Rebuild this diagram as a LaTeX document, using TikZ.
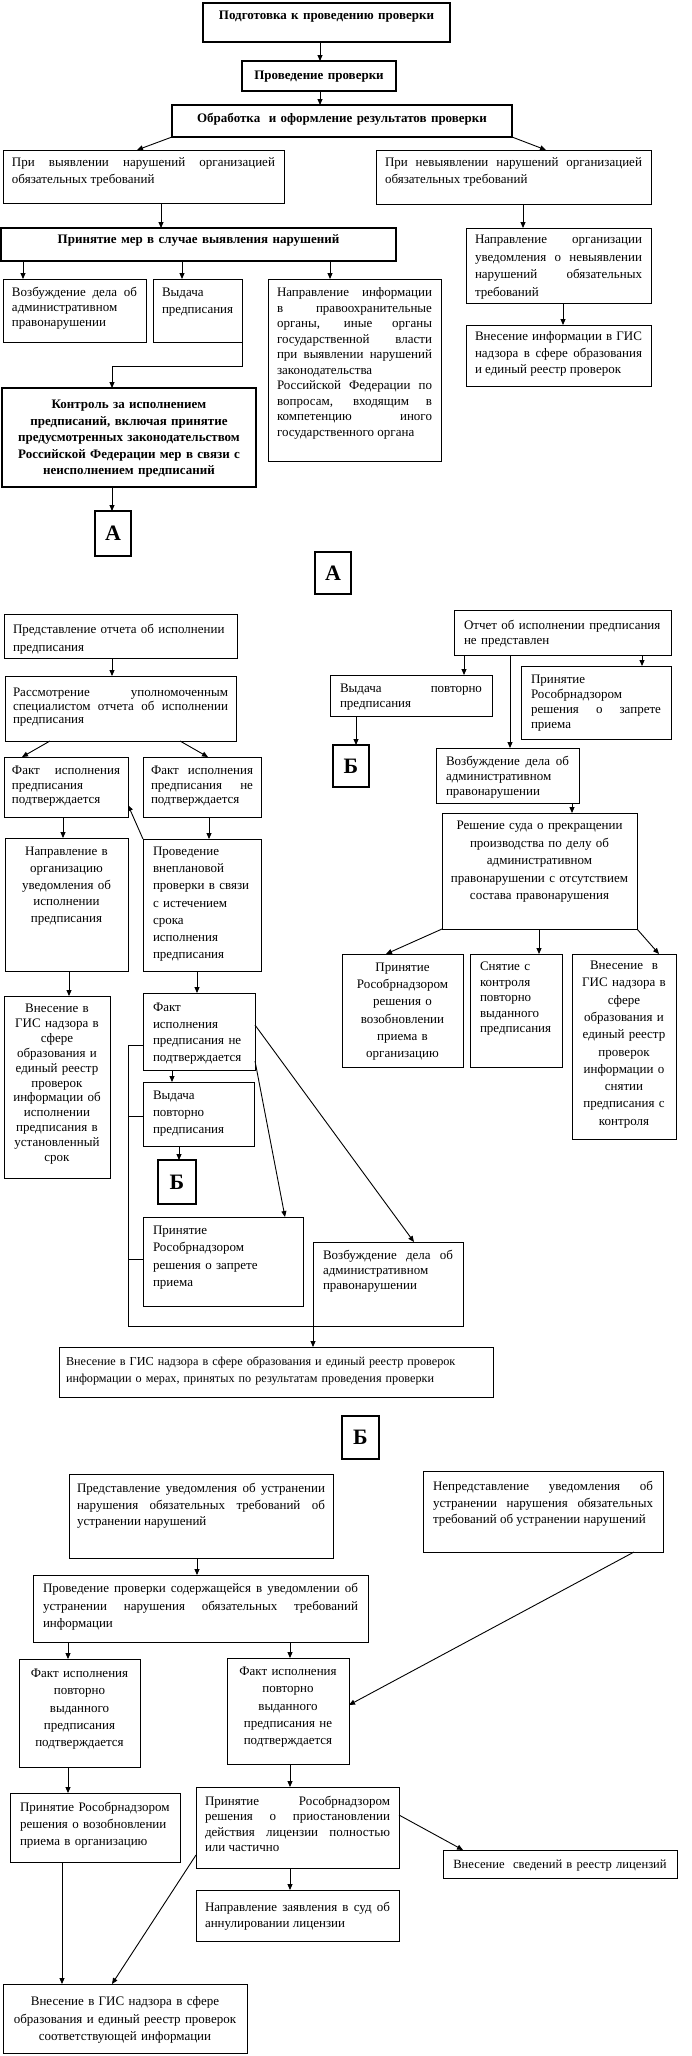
\documentclass[tikz,border=0pt]{standalone}
\usepackage{fontspec}
\setmainfont{Liberation Serif}
\usetikzlibrary{arrows.meta}
\tolerance=10000 \hbadness=10000 \hfuzz=30pt \hyphenpenalty=10000 \exhyphenpenalty=10000
\tikzset{
  box/.style={draw, rectangle, line width=1pt, inner sep=0pt, outer sep=0pt},
  bbox/.style={line width=2pt},
  mbox/.style={line width=1.3pt},
  txt/.style={inner sep=0pt, outer sep=0pt, font=\fontsize{13}{17}\selectfont},
  ls/.style={font=\fontsize{13}{#1}\selectfont},
  bfl/.style={font=\bfseries\fontsize{13}{#1}\selectfont},
  lbl/.style={font=\bfseries\fontsize{22}{22}\selectfont},
  arr/.style={-{Triangle[length=6pt,width=5pt]}, line width=0.9pt},
  conn/.style={line width=0.9pt},
}
\newcommand{\padx}{9}
\newcommand{\bx}[9]{%
  \pgfmathsetmacro{\bxW}{#5-#3}%
  \pgfmathsetmacro{\bxH}{#6-#4}%
  \pgfmathsetmacro{\bxTW}{#5-#3-2*\padx}%
  \pgfmathsetmacro{\bxTX}{#3+\padx}%
  \pgfmathsetmacro{\bxTY}{#7-6.5}%
  \node[box,#8,minimum width=\bxW pt,minimum height=\bxH pt,anchor=north west] (#2) at (#3,#4) {};%
  \node[txt,#1,text width=\bxTW pt,anchor=north west] (#2t) at (\bxTX,\bxTY) {\rule{0pt}{10pt}#9};%
}
\begin{document}
\begin{tikzpicture}[x=1pt,y=-1pt]
\fill[white] (0,0) rectangle (692,2056);
\useasboundingbox (0,0) rectangle (692,2056);

% ---------- top part ----------
\bx{bfl=17,align=center}{top}{203}{3}{450}{42}{16}{bbox}{Подготовка к проведению проверки}
\bx{bfl=17,align=center}{prov}{242}{61}{396}{91}{76}{bbox}{Проведение проверки}
\bx{bfl=17,align=center}{obr}{172}{105}{512}{137}{119}{bbox}{Обработка\ \ и оформление результатов проверки}
\bx{ls=17,align=justify}{vyyav}{3}{150}{284}{203}{163}{}{При выявлении нарушений организацией\linebreak обязательных требований}
\bx{ls=17,align=justify}{nevyyav}{376}{150}{651}{204}{163}{}{При невыявлении нарушений организацией\linebreak обязательных требований}
\bx{bfl=17,align=center}{mery}{1}{228}{396}{261}{240}{bbox}{Принятие мер в случае выявления нарушений}
\bx{ls=17.7,align=justify}{napr1}{466}{228}{651}{303}{240}{}{Направление организации\linebreak уведомления о невыявлении\linebreak нарушений обязательных\linebreak требований}
\bx{ls=16.5,align=justify}{vnes1}{466}{325}{651}{386}{337}{}{Внесение информации в ГИС\linebreak надзора в сфере образования\linebreak и единый реестр проверок}
\bx{ls=15,align=justify}{vozb1}{3}{279}{146}{342}{293}{}{Возбуждение дела об\linebreak административном\linebreak правонарушении}
\bx{ls=16.5,align=left}{vyd1}{153}{279}{242}{342}{293}{}{Выдача\\предписания}
\bx{ls=15.5,align=justify}{napr2}{268}{279}{441}{461}{293}{}{Направление информации\linebreak в правоохранительные\linebreak органы, иные органы\linebreak государственной власти\linebreak при выявлении нарушений\linebreak законодательства\linebreak Российской Федерации по\linebreak вопросам, входящим в\linebreak компетенцию иного\linebreak государственного органа}
\bx{bfl=16.5,align=center}{kontr}{2}{388}{256}{487}{405}{bbox}{Контроль за исполнением\\предписаний, включая принятие\\предусмотренных законодательством\\Российской Федерации мер в связи с\\неисполнением предписаний}
\node[box,bbox,lbl,minimum width=36pt,minimum height=45pt,anchor=north west] (A1) at (95,511) {А};

\draw[arr] (top.south -| 320,0) -- (prov.north -| 320,0);
\draw[arr] (prov.south -| 320,0) -- (obr.north -| 320,0);
\draw[arr] (obr.south west) -- (vyyav.north -| 137,0);
\draw[arr] (obr.south east) -- (nevyyav.north -| 546,0);
\draw[arr] (vyyav.south -| 161,0) -- (mery.north -| 161,0);
\draw[arr] (nevyyav.south -| 523,0) -- (napr1.north -| 523,0);
\draw[arr] (napr1.south -| 563,0) -- (vnes1.north -| 563,0);
\draw[arr] (mery.south -| 23,0) -- (vozb1.north -| 23,0);
\draw[arr] (mery.south -| 182,0) -- (vyd1.north -| 182,0);
\draw[arr] (mery.south -| 330,0) -- (napr2.north -| 330,0);
\draw[arr] (vyd1.south east) -- (vyd1.south east |- 0,366) -| (kontr.north -| 112,0);
\draw[arr] (kontr.south -| 112,0) -- (A1.north -| 112,0);

% ---------- section A ----------
\node[box,bbox,lbl,minimum width=36pt,minimum height=42pt,anchor=north west] (A2) at (315,552) {А};

\bx{ls=18,align=left}{pred}{4}{614}{237}{658}{630}{}{Представление отчета об исполнении\\предписания}
\renewcommand{\padx}{8}
\bx{ls=13.5,align=justify}{rass}{5}{676}{236}{741}{693}{}{Рассмотрение уполномоченным\linebreak специалистом отчета об исполнении\linebreak предписания}
\bx{ls=14.5,align=justify}{fakt1}{4}{757}{128}{817}{771}{}{Факт исполнения\linebreak предписания\linebreak подтверждается}
\bx{ls=14.5,align=justify}{fakt2}{143}{757}{261}{817}{771}{}{Факт исполнения\linebreak предписания не\linebreak подтверждается}
\bx{ls=16.75,align=center}{naprU}{5}{838}{128}{971}{852}{}{Направление в\\организацию\\уведомления об\\исполнении\\предписания}
\renewcommand{\padx}{10}
\bx{ls=17.2,align=left}{provn}{143}{839}{261}{971}{852}{}{Проведение\\внеплановой\\проверки в связи\\с истечением\\срока\\исполнения\\предписания}
\renewcommand{\padx}{4}
\bx{ls=14.9,align=center}{vnesU}{4}{996}{110}{1178}{1009}{}{Внесение в\\ГИС надзора в\\сфере\\образования и\\единый реестр\\проверок\\информации об\\исполнении\\предписания в\\установленный\\срок}
\renewcommand{\padx}{10}
\bx{ls=16.7,align=left}{faktN}{143}{993}{255}{1070}{1008}{}{Факт\\исполнения\\предписания не\\подтверждается}
\bx{ls=17,align=left}{vydP}{143}{1082}{254}{1146}{1096}{}{Выдача\\повторно\\предписания}
\node[box,mbox,lbl,minimum width=38pt,minimum height=44pt,anchor=north west] (B1) at (158,1160) {Б};
\bx{ls=17.3,align=left}{zapr}{143}{1217}{303}{1306}{1231}{}{Принятие\\Рособрнадзором\\решения о запрете\\приема}
\bx{ls=15,align=justify}{vozb2}{313}{1242}{463}{1326}{1256}{}{Возбуждение дела об\linebreak административном\linebreak правонарушении}
\renewcommand{\padx}{7}
\bx{font=\fontsize{12.2}{17}\selectfont,align=left}{vnesM}{59}{1347}{493}{1397}{1362}{}{Внесение в ГИС надзора в сфере образования и единый реестр проверок\\информации о мерах, принятых по результатам проведения проверки}
\renewcommand{\padx}{10}

\bx{ls=15,align=left}{otch}{454}{610}{671}{655}{626}{}{Отчет об исполнении предписания\\не представлен}
\bx{ls=14.5,align=justify}{vyd2}{330}{675}{492}{716}{689}{}{Выдача повторно\linebreak предписания}
\node[box,mbox,lbl,minimum width=36pt,minimum height=42pt,anchor=north west] (B2) at (333,745) {Б};
\bx{ls=15,align=justify}{zapr2}{521}{666}{671}{739}{680}{}{Принятие\linebreak Рособрнадзором\linebreak решения о запрете\linebreak приема}
\bx{ls=15,align=justify}{vozb3}{436}{748}{579}{803}{762}{}{Возбуждение дела об\linebreak административном\linebreak правонарушении}
\renewcommand{\padx}{8}
\bx{ls=17.5,align=center}{resh}{442}{813}{637}{929}{826}{}{Решение суда о прекращении\\производства по делу об\\административном\\правонарушении с отсутствием\\состава правонарушения}
\renewcommand{\padx}{5}
\bx{ls=17.2,align=center}{vozob}{342}{954}{463}{1067}{968}{}{Принятие\\Рособрнадзором\\решения о\\возобновлении\\приема в\\организацию}
\renewcommand{\padx}{10}
\bx{ls=15.5,align=left}{snyat}{470}{954}{562}{1067}{967}{}{Снятие с\\контроля\\повторно\\выданного\\предписания}
\renewcommand{\padx}{5}
\bx{ls=17.3,align=center}{vnesS}{572}{954}{676}{1139}{966}{}{Внесение\ \ в\\ГИС надзора в\\сфере\\образования и\\единый реестр\\проверок\\информации о\\снятии\\предписания с\\контроля}

\draw[arr] (pred.south -| 112,0) -- (rass.north -| 112,0);
\draw[arr] (rass.south -| 50,0) -- (fakt1.north -| 22,0);
\draw[arr] (rass.south -| 180,0) -- (fakt2.north -| 208,0);
\draw[arr] (provn.north west) -- (fakt1.east |- 0,805);
\draw[arr] (fakt1.south -| 63,0) -- (naprU.north -| 63,0);
\draw[arr] (fakt2.south -| 209,0) -- (provn.north -| 209,0);
\draw[arr] (naprU.south -| 69,0) -- (vnesU.north -| 69,0);
\draw[arr] (provn.south -| 197,0) -- (faktN.north -| 197,0);
\draw[arr] (faktN.south -| 172,0) -- (vydP.north -| 172,0);
\draw[arr] (vydP.south -| 179,0) -- (B1.north -| 179,0);
\draw[arr] (faktN.east |- 0,1061) -- (zapr.north -| 285,0);
\draw[arr] (faktN.east |- 0,1025) -- (vozb2.north -| 414,0);
\draw[conn] (faktN.west |- 0,1045) -| (vozb2.south west -| 128,0) -- (vozb2.south west);
\draw[conn] (vydP.west |- 0,1116) -- ++(-15,0);
\draw[conn] (zapr.west |- 0,1259) -- ++(-15,0);
\draw[arr] (vozb2.south west) -- (vnesM.north -| 313,0);

\draw[arr] (otch.south -| 464,0) -- (vyd2.north -| 464,0);
\draw[arr] (otch.south -| 510,0) -- (vozb3.north -| 510,0);
\draw[arr] (otch.south -| 642,0) -- (zapr2.north -| 642,0);
\draw[arr] (vyd2.south -| 356,0) -- (B2.north -| 356,0);
\draw[arr] (vozb3.south -| 572,0) -- (resh.north -| 572,0);
\draw[arr] (resh.south west) -- (vozob.north -| 386,0);
\draw[arr] (resh.south -| 539,0) -- (snyat.north -| 539,0);
\draw[arr] (resh.south east) -- (vnesS.north -| 659,0);

% ---------- section B ----------
\node[box,mbox,lbl,minimum width=37pt,minimum height=43pt,anchor=north west] (B3) at (342,1416) {Б};
\renewcommand{\padx}{8}
\bx{ls=16.5,align=justify}{predU}{69}{1474}{333}{1558}{1489}{}{Представление уведомления об устранении\linebreak нарушения обязательных требований об\linebreak устранении нарушений}
\renewcommand{\padx}{10}
\bx{ls=16.5,align=justify}{nepred}{423}{1471}{663}{1552}{1487}{}{Непредставление уведомления об\linebreak устранении нарушения обязательных\linebreak требований об устранении нарушений}
\bx{ls=17.5,align=justify}{provU}{33}{1575}{368}{1642}{1589}{}{Проведение проверки содержащейся в уведомлении об\linebreak устранении нарушения обязательных требований\linebreak информации}
\renewcommand{\padx}{5}
\bx{ls=17.3,align=center}{faktP}{19}{1659}{140}{1767}{1674}{}{Факт исполнения\\повторно\\выданного\\предписания\\подтверждается}
\bx{ls=17.3,align=center}{faktNP}{227}{1658}{349}{1764}{1672}{}{Факт исполнения\\повторно\\выданного\\предписания не\\подтверждается}
\renewcommand{\padx}{10}
\bx{ls=17,align=left}{prinV}{10}{1793}{180}{1862}{1808}{}{Принятие Рособрнадзором\\решения о возобновлении\\приема в организацию}
\renewcommand{\padx}{9}
\bx{ls=15.3,align=justify}{prinP}{196}{1787}{399}{1868}{1802}{}{Принятие Рособрнадзором\linebreak решения о приостановлении\linebreak действия лицензии полностью\linebreak или частично}
\bx{ls=16,align=justify}{naprZ}{196}{1890}{399}{1941}{1908}{}{Направление заявления в суд об\linebreak аннулировании лицензии}
\renewcommand{\padx}{6}
\bx{font=\fontsize{12.6}{17}\selectfont,align=center}{vnesL}{443}{1850}{677}{1878}{1865}{}{Внесение\ \ сведений в реестр лицензий}
\renewcommand{\padx}{8}
\bx{ls=17.5,align=center}{vnesF}{3}{1984}{247}{2053}{2002}{}{Внесение в ГИС надзора в сфере\\образования и единый реестр проверок\\соответствующей информации}

\draw[arr] (predU.south -| 197,0) -- (provU.north -| 197,0);
\draw[arr] (provU.south -| 68,0) -- (faktP.north -| 68,0);
\draw[arr] (provU.south -| 290,0) -- (faktNP.north -| 290,0);
\draw[arr] (nepred.south -| 634,0) -- (faktNP.east |- 0,1705);
\draw[arr] (faktP.south -| 68,0) -- (prinV.north -| 68,0);
\draw[arr] (faktNP.south -| 290,0) -- (prinP.north -| 290,0);
\draw[arr] (prinP.south -| 290,0) -- (naprZ.north -| 290,0);
\draw[arr] (prinP.east |- 0,1815) -- (vnesL.north -| 463,0);
\draw[arr] (prinV.south -| 62,0) -- (vnesF.north -| 62,0);
\draw[arr] (prinP.west |- 0,1855) -- (vnesF.north -| 112,0);
\end{tikzpicture}
\end{document}
